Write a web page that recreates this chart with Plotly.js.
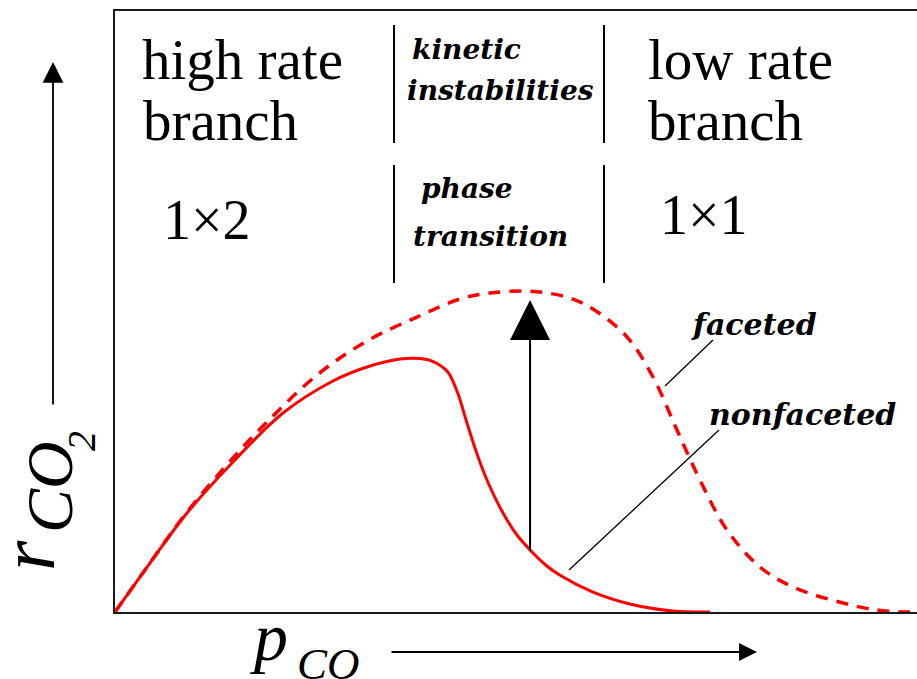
<!DOCTYPE html>
<html>
<head>
<meta charset="utf-8">
<script src="https://cdn.plot.ly/plotly-3.0.1.min.js"></script>
<style>
  html, body { margin: 0; padding: 0; background: #ffffff; }
  #chart { width: 917px; height: 679px; }
</style>
</head>
<body>
<div id="chart"></div>
<script>
// CO2 production rate vs. CO partial pressure (schematic, arbitrary units)

// nonfaceted surface: rate collapses past the kinetic instability
const nonfacetedP = [0, 0.436, 0.898, 1.471, 2.095, 2.718, 3.142, 3.554, 3.803, 3.953, 4.140, 4.264, 4.389, 4.514, 4.638, 4.838, 5.012, 5.200, 5.362, 5.549, 5.960, 6.459, 6.958, 7.419];
const nonfacetedR = [0, 0.815, 1.647, 2.496, 3.311, 3.844, 4.077, 4.210, 4.218, 4.176, 4.010, 3.677, 3.145, 2.629, 2.196, 1.647, 1.281, 0.998, 0.790, 0.610, 0.330, 0.120, 0.017, 0];

// faceted surface: high rate branch extends to higher CO pressure
const facetedP = [0, 0.436, 0.898, 1.471, 1.895, 2.519, 3.142, 3.766, 4.302, 4.676, 5.087, 5.387, 5.673, 5.960, 6.384, 6.708, 7.007, 7.294, 7.631, 8.042, 8.454, 9.077, 9.501, 9.813, 10.0];
const facetedR = [0, 0.815, 1.664, 2.562, 3.161, 3.943, 4.509, 4.908, 5.208, 5.308, 5.341, 5.308, 5.225, 5.042, 4.576, 3.910, 3.028, 2.196, 1.364, 0.749, 0.416, 0.150, 0.033, 0, 0];

// phase transition jump: from the nonfaceted curve up to the faceted one
const jumpP = [5.175, 5.175];
const jumpR = [1.0, 5.19];

// callout lines linking curve names to their curves
const facetedCallout = { p: [6.858, 7.456], r: [3.760, 4.526] };
const nonfacetedCallout = { p: [5.661, 7.531], r: [0.699, 3.028] };

const W = 917, H = 679;
const M = { l: 115, r: 0, t: 11, b: 67 };
const PW = W - M.l - M.r, PH = H - M.t - M.b;
// canvas pixel -> paper fraction
const px = x => (x - M.l) / PW;
const py = y => (H - M.b - y) / PH;

const serif = 'Liberation Serif, Times New Roman, serif';
const wide = 'DejaVu Serif, serif';

const traces = [
  {
    x: nonfacetedP, y: nonfacetedR, type: 'scatter', mode: 'lines',
    line: { color: '#ff0000', width: 3, shape: 'spline', smoothing: 1 },
    hoverinfo: 'skip', cliponaxis: false
  },
  {
    x: facetedP, y: facetedR, type: 'scatter', mode: 'lines',
    line: { color: '#ff0000', width: 3.5, dash: '12px,9px', shape: 'spline', smoothing: 1 },
    hoverinfo: 'skip', cliponaxis: false
  }
];

function label(text, x, yBase, size, opts) {
  opts = opts || {};
  return {
    text: text, xref: 'paper', yref: 'paper',
    x: px(x), y: py(yBase - 0.3 * size),
    xanchor: 'left', yanchor: 'middle', showarrow: false,
    font: {
      family: opts.family || serif, size: size, color: '#000',
      style: opts.italic ? 'italic' : 'normal',
      weight: opts.bold ? 'bold' : 'normal'
    }
  };
}

function rotated(text, cx, cy, size) {
  return {
    text: text, xref: 'paper', yref: 'paper', x: px(cx), y: py(cy),
    xanchor: 'center', yanchor: 'middle', showarrow: false, textangle: -90,
    font: { family: serif, size: size, color: '#000', style: 'italic' }
  };
}

const tag = { family: wide, italic: true, bold: true };

const annotations = [
  label('high rate', 140, 77, 57),
  label('branch', 141, 138, 57),
  label('low rate', 646, 77, 57),
  label('branch', 646, 138, 57),
  label('1\u00d72', 161, 237, 56),
  label('1\u00d71', 658, 232, 56),
  label('kinetic', 410, 58, 28, tag),
  label('instabilities', 405, 99, 28, tag),
  label('phase', 419, 197, 28, tag),
  label('transition', 411, 245, 28, tag),
  label('faceted', 689, 333, 30, tag),
  label('nonfaceted', 707, 423, 30, tag),
  // axis titles
  label('p', 248, 657, 68, { italic: true }),
  label('CO', 295, 677, 45, { italic: true }),
  rotated('r', 27, 556, 78),
  rotated('CO', 49, 487, 66),
  rotated('2', 81, 441, 40),
  // axis direction arrows
  {
    text: '', xref: 'paper', yref: 'paper', x: px(53), y: py(62),
    ax: 0, ay: 344, showarrow: true, arrowhead: 2, arrowsize: 2.3,
    arrowwidth: 1.8, arrowcolor: '#000', standoff: 0
  },
  {
    text: '', xref: 'paper', yref: 'paper', x: px(757), y: py(652),
    ax: -367, ay: 0, showarrow: true, arrowhead: 2, arrowsize: 2.0,
    arrowwidth: 1.8, arrowcolor: '#000', standoff: 0
  },
  // phase transition jump
  {
    text: '', xref: 'x', yref: 'y', axref: 'x', ayref: 'y',
    x: jumpP[1], y: jumpR[1], ax: jumpP[0], ay: jumpR[0],
    showarrow: true, arrowhead: 2, arrowsize: 4, arrowwidth: 2,
    arrowcolor: '#000', standoff: 0
  }
];

const divider = (x, y0, y1) => ({
  type: 'line', xref: 'paper', yref: 'paper',
  x0: px(x), x1: px(x), y0: py(y0), y1: py(y1),
  line: { color: '#000', width: 2 }
});

const shapes = [
  divider(394, 25, 143),
  divider(394, 165, 283),
  divider(604, 25, 143),
  divider(604, 165, 283),
  {
    type: 'line', xref: 'x', yref: 'y',
    x0: facetedCallout.p[0], x1: facetedCallout.p[1],
    y0: facetedCallout.r[0], y1: facetedCallout.r[1],
    line: { color: '#000', width: 1.3 }
  },
  {
    type: 'line', xref: 'x', yref: 'y',
    x0: nonfacetedCallout.p[0], x1: nonfacetedCallout.p[1],
    y0: nonfacetedCallout.r[0], y1: nonfacetedCallout.r[1],
    line: { color: '#000', width: 1.3 }
  }
];

const layout = {
  width: W, height: H,
  margin: M,
  paper_bgcolor: '#ffffff', plot_bgcolor: '#ffffff',
  showlegend: false,
  xaxis: {
    range: [0, 10], showgrid: false, zeroline: false, showticklabels: false, ticks: '',
    showline: true, mirror: true, linecolor: '#1a1a1a', linewidth: 2, fixedrange: true
  },
  yaxis: {
    range: [0, 10], showgrid: false, zeroline: false, showticklabels: false, ticks: '',
    showline: true, mirror: false, linecolor: '#1a1a1a', linewidth: 2, fixedrange: true
  },
  annotations: annotations,
  shapes: shapes
};

Plotly.newPlot('chart', traces, layout, { displayModeBar: false, staticPlot: true });
</script>
</body>
</html>
